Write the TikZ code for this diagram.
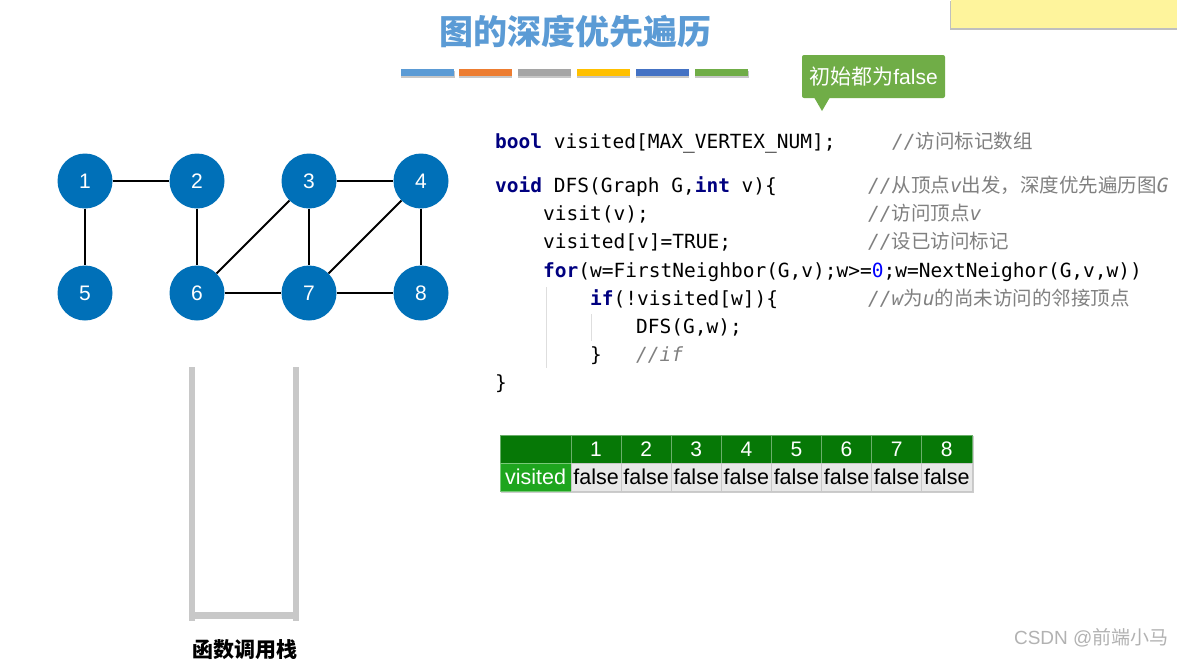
\documentclass[tikz,border=0pt]{standalone}
\usepackage{fontspec}
\setmainfont{Liberation Sans}
\setmonofont{DejaVu Sans Mono}
\newfontfamily\cjk{Noto Sans CJK SC}
\definecolor{titleblue}{HTML}{5B9BD5}
\definecolor{barA}{HTML}{5B9BD5}
\definecolor{barB}{HTML}{ED7D31}
\definecolor{barC}{HTML}{A5A5A5}
\definecolor{barD}{HTML}{FFC000}
\definecolor{barE}{HTML}{4472C4}
\definecolor{barF}{HTML}{70AD47}
\definecolor{nodeblue}{HTML}{0070B8}
\definecolor{kwblue}{HTML}{000080}
\definecolor{numblue}{HTML}{0000FF}
\definecolor{cmgray}{HTML}{808080}
\definecolor{hdrgreen}{HTML}{067806}
\definecolor{visgreen}{HTML}{1EA51E}
\definecolor{cellgray}{HTML}{E8E8E8}
\definecolor{stackgray}{HTML}{C8C8C8}
\definecolor{notey}{HTML}{FEF49C}
\newcommand\kw[1]{\textcolor{kwblue}{\textbf{#1}}}
\newcommand\zh[1]{{\cjk\upshape #1}}
\tikzset{
  vtx/.style={circle, fill=nodeblue, minimum size=55pt, inner sep=0pt, text=white, font=\fontsize{21}{21}\selectfont},
  edge/.style={line width=2pt, black},
  codeline/.style={anchor=base west, inner sep=0pt, font=\ttfamily\fontsize{19.5}{20}\selectfont},
  cmline/.style={anchor=base west, inner sep=0pt, text=cmgray, font=\ttfamily\itshape\fontsize{19.5}{20}\selectfont},
  hdr/.style={fill=hdrgreen, draw=white!40!hdrgreen, line width=0.6pt, text=white, minimum height=28pt, inner sep=0pt, font=\fontsize{21}{21}\selectfont},
  cell/.style={fill=cellgray, draw=stackgray, line width=0.6pt, text=black, minimum width=50.1pt, minimum height=28pt, inner sep=0pt, font=\fontsize{21.5}{21}\selectfont},
  bar/.style={minimum width=53pt, minimum height=7pt, inner sep=0pt},
  guide/.style={draw=black!13, line width=1pt},
  stackwall/.style={draw=stackgray, line width=6.5pt},
  callbox/.style={fill=barF, rounded corners=2pt, text=white, minimum width=143pt, minimum height=43pt, inner sep=0pt, font=\fontsize{21}{21}\selectfont}
}
\begin{document}
\begin{tikzpicture}[x=1pt, y=-1pt]
\useasboundingbox (0,0) rectangle (1177,659);
\fill[white] (0,0) rectangle (1177,659);

% sticky note
\fill[black!25] (950,1) rectangle (1177,30);
\fill[notey] (951,0) rectangle (1177,28);

% title
\node[text=titleblue, font=\cjk\bfseries\fontsize{34}{34}\selectfont] (title) at (575,32) {图的深度优先遍历};

% colour bars
\foreach \c/\x in {barA/427.5, barB/485, barC/544, barD/603, barE/662, barF/721.5}{
  \fill[black!22] (\x-26.5,70.5) rectangle (\x+27,77.5);
  \node[bar, fill=\c] at (\x,72) {};
}

% callout
\node[callbox] (call) at (873.5,76.5) {\zh{初始都为}false};
\coordinate (tip) at (822,111);
\fill[barF] ([xshift=-8pt,yshift=1pt]call.south west -| tip) -- (tip) -- ([xshift=8pt,yshift=1pt]call.south west -| tip) -- cycle;

% graph
\node[vtx] (n1) at (85,181) {1};
\node[vtx] (n2) at (197,181) {2};
\node[vtx] (n3) at (309,181) {3};
\node[vtx] (n4) at (421,181) {4};
\node[vtx] (n5) at (85,293) {5};
\node[vtx] (n6) at (197,293) {6};
\node[vtx] (n7) at (309,293) {7};
\node[vtx] (n8) at (421,293) {8};
\draw[edge] (n1) -- (n2);
\draw[edge] (n1) -- (n5);
\draw[edge] (n2) -- (n6);
\draw[edge] (n3) -- (n6);
\draw[edge] (n3) -- (n4);
\draw[edge] (n3) -- (n7);
\draw[edge] (n4) -- (n7);
\draw[edge] (n4) -- (n8);
\draw[edge] (n6) -- (n7);
\draw[edge] (n7) -- (n8);

% call stack
\draw[stackwall] (192,367) -- (192,621);
\draw[stackwall] (296,367) -- (296,621);
\draw[stackwall, line width=7pt] (192,615) -- (296,615);
\node[font=\cjk\bfseries\fontsize{21}{21}\selectfont] (stacklbl) at (245,650) {函数调用栈};

% code guides
\draw[guide] (546,287) -- (546,368);
\draw[guide] (591,314) -- (591,341);

% code
\node[codeline] (c1) at (495,148) {\kw{bool} visited[MAX\_VERTEX\_NUM];};
\node[cmline] (k1) at (892,148) {//\zh{访问标记数组}};
\node[codeline] (c2) at (495,192) {\kw{void} DFS(Graph G,\kw{int} v)\{};
\node[cmline] (k2) at (868,192) {//\zh{从顶点}v\zh{出发，深度优先遍历图}G};
\node[codeline] (c3) at (543,220) {visit(v);};
\node[cmline] (k3) at (868,220) {//\zh{访问顶点}v};
\node[codeline] (c4) at (543,248) {visited[v]=TRUE;};
\node[cmline] (k4) at (868,248) {//\zh{设已访问标记}};
\node[codeline] (c5) at (543,277) {\kw{for}(w=FirstNeighbor(G,v);w>=\textcolor{numblue}{0};w=NextNeighor(G,v,w))};
\node[codeline] (c6) at (590,305) {\kw{if}(!visited[w])\{};
\node[cmline] (k6) at (868,305) {//w\zh{为}u\zh{的尚未访问的邻接顶点}};
\node[codeline] (c7) at (636,333) {DFS(G,w);};
\node[codeline] (c8) at (590,361) {\}};
\node[cmline] (k8) at (636,361) {//if};
\node[codeline] (c9) at (495,389) {\}};

% table
\fill[black!20] (501,436) rectangle (974,493);
\node[hdr, minimum width=71pt] (h0) at (535.5,449) {};
\node[hdr, fill=visgreen, draw=white!40!visgreen, minimum width=71pt, font=\fontsize{21.5}{21}\selectfont] (v0) at (535.5,477) {visited};
\foreach \i in {1,...,8}{
  \pgfmathsetmacro\cx{571+50.1*(\i-0.5)}
  \node[hdr, minimum width=50.1pt] (h\i) at (\cx,449) {\i};
  \node[cell] (v\i) at (\cx,477) {false};
}

% watermark
\node[text=black!30, font=\fontsize{19}{19}\selectfont, anchor=east] (wm) at (1172,638) {CSDN @\zh{前端小马}};
\end{tikzpicture}
\end{document}
